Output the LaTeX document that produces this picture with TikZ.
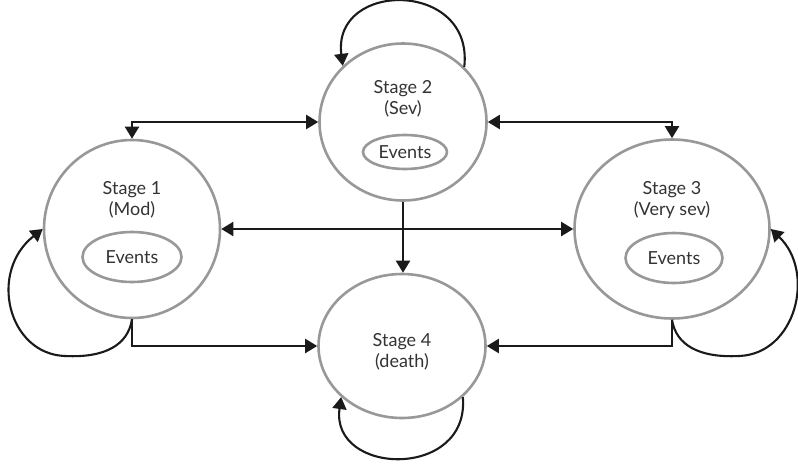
\documentclass[tikz,border=0pt]{standalone}
\usepackage{fontspec}
\setmainfont{Lato}
\usetikzlibrary{shapes.geometric,arrows.meta}
\definecolor{stagegray}{HTML}{989898}
\definecolor{ink}{HTML}{1A1A1A}
\definecolor{textgray}{HTML}{333333}
\tikzset{
  stage/.style={ellipse, draw=stagegray, line width=2.6pt, inner sep=0pt},
  events/.style={ellipse, draw=stagegray, line width=2.6pt, inner sep=0pt,
    text=textgray, font=\fontsize{18}{21}\selectfont},
  stagetext/.style={align=center, text=textgray, font=\fontsize{18}{21}\selectfont},
  tip/.tip={Triangle[length=12pt,width=14pt]},
  flow/.style={draw=ink, line width=2.1pt, -tip},
  twoway/.style={draw=ink, line width=2.1pt, tip-tip},
}
\begin{document}
\begin{tikzpicture}[x=1pt, y=-1pt]
  \useasboundingbox[fill=white] (0,0) rectangle (798,464);

  % stage circles
  \node[stage, minimum width=176pt, minimum height=178pt] (s1) at (132,229) {};
  \node[stage, minimum width=167pt, minimum height=157pt] (s2) at (403,122) {};
  \node[stage, minimum width=195pt, minimum height=179pt] (s3) at (672,229) {};
  \node[stage, minimum width=167pt, minimum height=144pt] (s4) at (402,346) {};

  % titles
  \node[stagetext] (t1) at (132,200) {Stage 1\\(Mod)};
  \node[stagetext] (t2) at (403,99)  {Stage 2\\(Sev)};
  \node[stagetext] (t3) at (672,200) {Stage 3\\(Very sev)};
  \node[stagetext] (t4) at (402,352) {Stage 4\\(death)};

  % event ellipses
  \node[events, minimum width=99pt, minimum height=50pt] (e1) at (132,257) {Events};
  \node[events, minimum width=84pt, minimum height=34pt] (e2) at (405,152) {Events};
  \node[events, minimum width=97pt, minimum height=50pt] (e3) at (674,258) {Events};

  % transitions between stages
  \draw[twoway] (s1.north) |- (s2.west);
  \draw[twoway] (s2.east) -| (s3.north);
  \draw[twoway] (s1.east) -- (s3.west);
  \draw[flow] (s2.south) -- (s2.south |- s4.north);
  \draw[flow] (s1.south) |- (s4.west);
  \draw[flow] (s3.south) |- (s4.east);

  % staying in the same stage
  \draw[flow] (s2.42) .. controls (474,-20) and (332,-20) .. (s2.137);
  \draw[flow] (s1.south) .. controls (128,345) and (105,358) .. (65,356)
              .. controls (8,354) and (-12,272) .. (s1.west);
  \draw[flow] (s3.south) .. controls (676,345) and (699,358) .. (739,356)
              .. controls (796,354) and (816,272) .. (s3.east);
  \draw[flow] (s4.-40) .. controls (470,480) and (330,476) .. (s4.-140);
\end{tikzpicture}
\end{document}
